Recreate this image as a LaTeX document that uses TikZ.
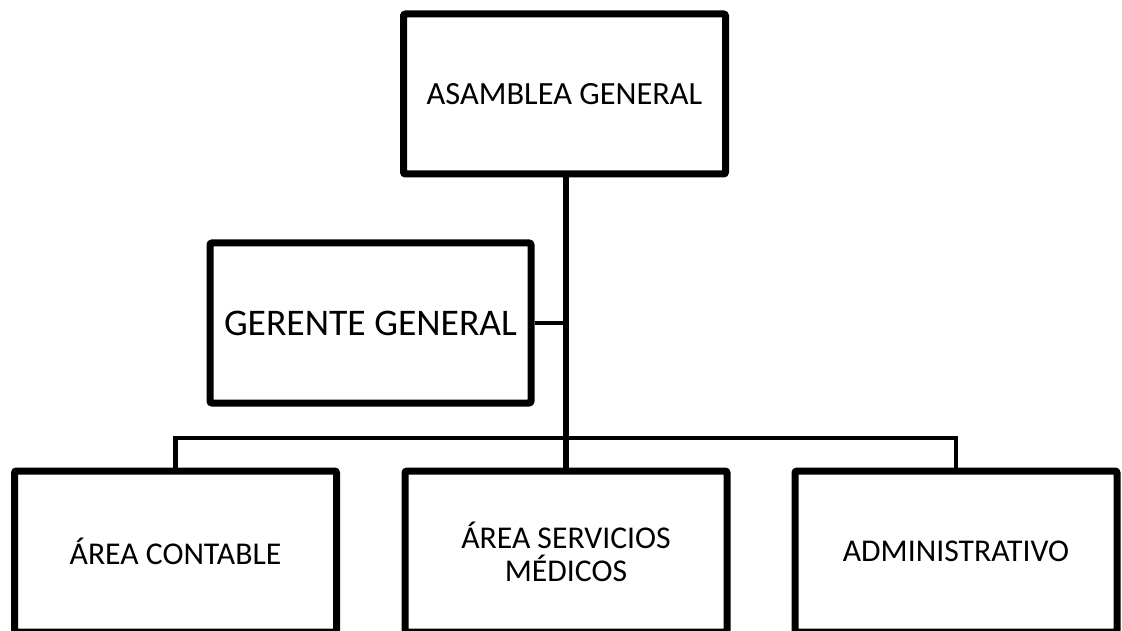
\documentclass[tikz,border=0pt]{standalone}
\usepackage{fontspec}
\setmainfont{Carlito}
\usetikzlibrary{shadows}
\begin{document}
\begin{tikzpicture}[x=1pt,y=-1pt,
  orgbox/.style={draw=black, line width=7pt, fill=white, rounded corners=2pt,
    inner sep=0pt, minimum width=322pt, align=center,
    drop shadow={shadow xshift=1.5pt, shadow yshift=-2.5pt, fill=black, opacity=0.18}},
  trunk/.style={line width=6pt, draw=black},
  branch/.style={line width=4.3pt, draw=black}]
\useasboundingbox (0,0) rectangle (1122,631);
\begin{scope}
\clip (0,0) rectangle (1122,631);
\coordinate (bus) at (566,438);
% boxes
\node[orgbox, minimum height=160pt, font=\fontsize{32.4}{36}\selectfont] (asm) at (564.5,94) {ASAMBLEA GENERAL};
\node[orgbox, minimum width=321pt, minimum height=160pt, font=\fontsize{37.6}{42}\selectfont] (ger) at (370.5,323) {GERENTE GENERAL};
\node[orgbox, minimum height=161pt, font=\fontsize{31.7}{33}\selectfont] (cont) at (175.5,551.5) {ÁREA CONTABLE};
\node[orgbox, minimum height=161pt, font=\fontsize{31.7}{33}\selectfont] (med) at (566,551.5) {ÁREA SERVICIOS\\MÉDICOS};
\node[orgbox, minimum height=161pt, font=\fontsize{31.7}{33}\selectfont] (adm) at (956,551.5) {ADMINISTRATIVO};
% connectors
\draw[trunk] (asm.south -| bus) -- (med.north -| bus);
\draw[branch] (ger.east) -- (ger.east -| bus);
\draw[branch] (cont.north) |- (bus) -| (adm.north);
\end{scope}
\end{tikzpicture}
\end{document}
